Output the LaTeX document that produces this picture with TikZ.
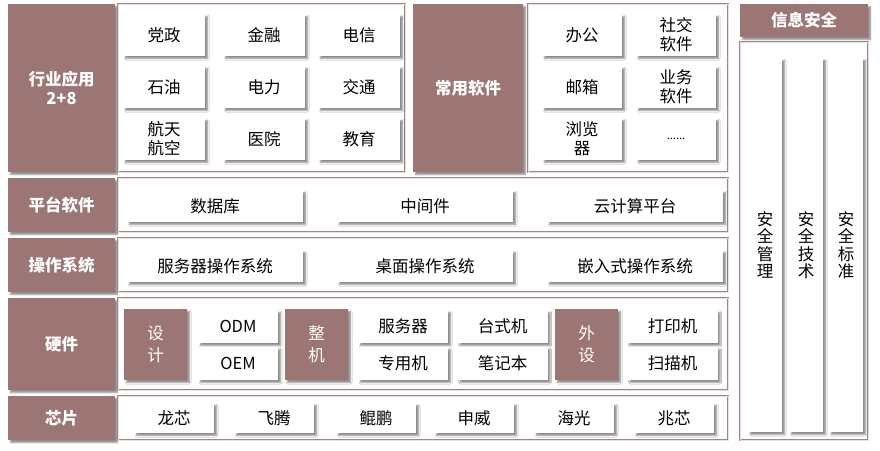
\documentclass[tikz,border=0pt]{standalone}
\usepackage{fontspec}
\setmainfont{Noto Sans CJK SC}
\usetikzlibrary{shadows.blur}
\definecolor{layerbrown}{HTML}{9C7575}
\definecolor{panelline}{HTML}{A08585}

\begin{document}
\begin{tikzpicture}[x=1pt, y=-1pt,
  soft/.style={blur shadow={shadow xshift=2.5pt, shadow yshift=-2.5pt,
    shadow blur radius=1.5pt, shadow opacity=45}},
  lbl/.style={soft, fill=layerbrown, text=white, inner sep=0pt, align=center,
    font=\fontsize{16.5}{19}\selectfont\bfseries},
  tag/.style={lbl, minimum width=63, minimum height=71,
    font=\fontsize{16.5}{22}\selectfont},
  panel/.style={draw=panelline, double=panelline!25, double distance=0.5pt,
    line width=0.7pt, fill=white, inner sep=0pt},
  cell/.style={soft, fill=white, inner sep=0pt, align=center,
    font=\fontsize{16.5}{19}\selectfont},
  sq/.style={cell, minimum width=82, minimum height=42},
  wide/.style={cell, minimum width=176, minimum height=32},
  chip/.style={cell, minimum width=80, minimum height=30},
  half/.style={cell, minimum width=90, minimum height=33}
]
  \useasboundingbox (0,0) rectangle (880,450);

  % Industry applications
  \node[lbl, minimum width=107, minimum height=168] (ind) at (61.5, 88) {行业应用\\2+8};
  \node[panel, minimum width=287, minimum height=168] (indp) at (261.5, 88) {};
  \node[sq] (dz) at (164, 35) {党政};
  \node[sq] (jr) at (264, 35) {金融};
  \node[sq] (dx) at (359, 35) {电信};
  \node[sq] (sy) at (164, 87) {石油};
  \node[sq] (dl) at (264, 87) {电力};
  \node[sq] (jt) at (359, 87) {交通};
  \node[sq] (ht) at (164, 139) {航天\\航空};
  \node[sq] (yy) at (264, 139) {医院};
  \node[sq] (jy) at (359, 139) {教育};

  % Common software
  \node[lbl, minimum width=110, minimum height=168] (soft) at (468, 88) {常用软件};
  \node[panel, minimum width=200, minimum height=168] (softp) at (628, 88) {};
  \node[sq, minimum width=80] (bg) at (582, 35) {办公};
  \node[sq, minimum width=80] (sj) at (676, 35) {社交\\软件};
  \node[sq, minimum width=80] (yx) at (582, 87) {邮箱};
  \node[sq, minimum width=80] (yw) at (676, 87) {业务\\软件};
  \node[sq, minimum width=80] (llq) at (582, 139) {浏览\\器};
  \node[sq, minimum width=80] (etc) at (676, 139) {\fontsize{11}{13}\selectfont ......};

  % Platform software and OS
  \node[lbl, minimum width=107, minimum height=54] (plat) at (61.5, 205) {平台软件};
  \node[panel, minimum width=610, minimum height=54] (platp) at (423, 205) {};
  \node[wide] (sjk) at (215, 206) {数据库};
  \node[wide] (zjj) at (425, 206) {中间件};
  \node[wide] (yjs) at (635, 206) {云计算平台};
  \node[lbl, minimum width=107, minimum height=54] (os) at (61.5, 265) {操作系统};
  \node[panel, minimum width=610, minimum height=54] (osp) at (423, 265) {};
  \node[wide] (fwq) at (215, 266) {服务器操作系统};
  \node[wide] (zm) at (425, 266) {桌面操作系统};
  \node[wide] (qrs) at (635, 266) {嵌入式操作系统};

  % Hardware
  \node[lbl, minimum width=107, minimum height=92] (hw) at (61.5, 344) {硬件};
  \node[panel, minimum width=610, minimum height=92] (hwp) at (423, 344) {};
  \node[tag] (sheji) at (155.5, 344.5) {设\\计};
  \node[half, minimum width=80] (odm) at (238, 326.5) {ODM};
  \node[half, minimum width=80] (oem) at (238, 363.5) {OEM};
  \node[tag] (zhengji) at (316.5, 344.5) {整\\机};
  \node[half] (server) at (403, 326.5) {服务器};
  \node[half] (zyj) at (403, 363.5) {专用机};
  \node[half] (tsj) at (502.5, 326.5) {台式机};
  \node[half] (bjb) at (502.5, 363.5) {笔记本};
  \node[tag] (waishe) at (586.5, 344.5) {外\\设};
  \node[half] (dyj) at (672.5, 326.5) {打印机};
  \node[half] (smj) at (672.5, 363.5) {扫描机};

  % Chips
  \node[lbl, minimum width=107, minimum height=44] (chip) at (61.5, 418) {芯片};
  \node[panel, minimum width=610, minimum height=44] (chipp) at (423, 418) {};
  \node[chip] (lx) at (174, 418) {龙芯};
  \node[chip] (ft) at (274, 418) {飞腾};
  \node[chip] (kp) at (376, 418) {鲲鹏};
  \node[chip] (sw) at (474, 418) {申威};
  \node[chip] (hg) at (574, 418) {海光};
  \node[chip] (zx) at (674, 418) {兆芯};

  % Information security
  \node[lbl, minimum width=128, minimum height=33] (sec) at (804, 20.5) {信息安全};
  \node[panel, minimum width=128, minimum height=398] (secp) at (804, 241) {};
  \node[cell, minimum width=34, minimum height=374, font=\fontsize{16.5}{17.5}\selectfont] (aqgl) at (765, 245) {安\\全\\管\\理};
  \node[cell, minimum width=34, minimum height=374, font=\fontsize{16.5}{17.5}\selectfont] (aqjs) at (806, 245) {安\\全\\技\\术};
  \node[cell, minimum width=34, minimum height=374, font=\fontsize{16.5}{17.5}\selectfont] (aqbz) at (846, 245) {安\\全\\标\\准};
\end{tikzpicture}
\end{document}
